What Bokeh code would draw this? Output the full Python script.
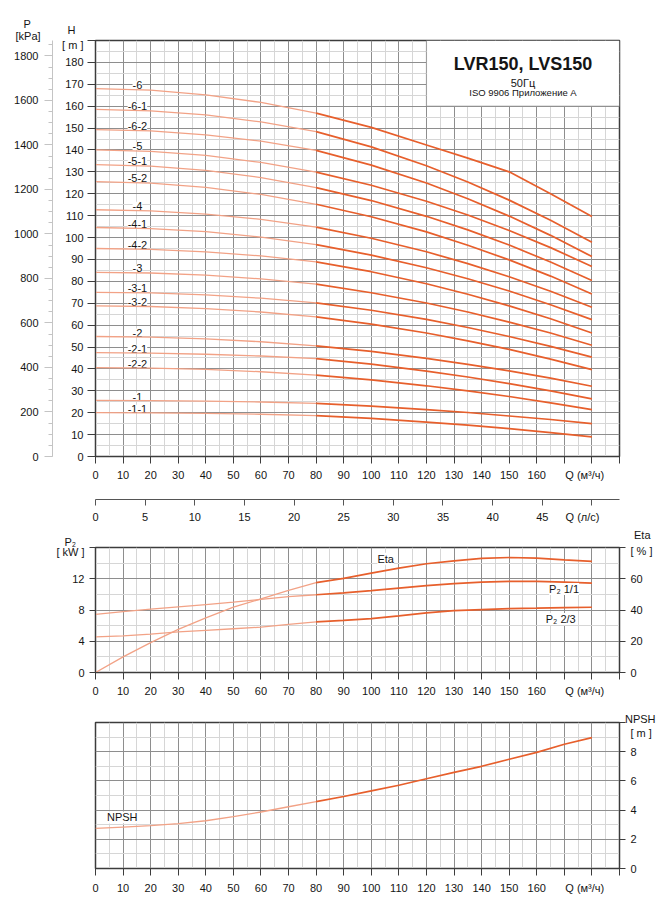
from bokeh.plotting import figure
from bokeh.models import (Range1d, LinearAxis, FixedTicker, Label, LabelSet, Title,
                          ColumnDataSource, BoxAnnotation)
from bokeh.layouts import column
from bokeh.core.properties import value
from bokeh.embed import file_html
from bokeh.resources import INLINE

FONT = "Liberation Sans"
INK = "#151515"
FRAME = "#3c3c3c"
GRID_MAJOR = "#8e8e8e"
GRID_MINOR = "#d6d6d6"
THIN = "#f2a286"
THICK = "#e75f2c"
KPA_PER_M = 9.84
Q_END = 190

# ---------------- H(Q) curves, Q in m3/h ----------------
q_head = [0, 20, 40, 60, 80, 100, 120, 135, 150, 165, 180]
h_6 = [168.0, 167.3, 165.2, 161.7, 156.8, 150.3, 142.3, 136.3, 130.0, 120.0, 109.6]
h_6_1 = [158.5, 157.9, 156.0, 152.8, 148.4, 141.4, 132.8, 125.4, 117.1, 107.9, 97.9]
h_6_2 = [149.3, 148.7, 146.9, 144.0, 139.8, 133.1, 124.9, 117.7, 109.8, 101.0, 91.3]
h_5 = [140.0, 139.4, 137.5, 134.3, 129.9, 123.9, 116.6, 110.3, 103.2, 95.4, 86.8]
h_5_1 = [133.3, 132.6, 130.7, 127.4, 122.8, 116.9, 109.7, 103.5, 96.6, 88.8, 80.4]
h_5_2 = [125.5, 124.9, 122.9, 119.7, 115.2, 109.5, 102.6, 96.5, 89.8, 82.4, 74.2]
h_4 = [112.7, 112.2, 110.7, 108.3, 104.8, 99.7, 93.5, 88.1, 82.1, 75.5, 68.2]
h_4_1 = [104.6, 104.1, 102.7, 100.2, 96.8, 92.0, 86.2, 81.2, 75.6, 69.3, 62.5]
h_4_2 = [95.0, 94.6, 93.5, 91.6, 88.9, 84.4, 78.9, 74.1, 68.8, 62.9, 56.4]
h_3 = [84.1, 83.8, 82.8, 81.1, 78.7, 74.8, 70.1, 66.0, 61.4, 56.4, 50.8]
h_3_1 = [75.0, 74.7, 73.8, 72.3, 70.2, 66.8, 62.6, 58.9, 54.8, 50.3, 45.4]
h_3_2 = [68.8, 68.5, 67.5, 66.0, 63.8, 60.5, 56.4, 52.8, 48.9, 44.5, 39.7]
h_2 = [54.8, 54.5, 53.7, 52.4, 50.5, 48.0, 44.8, 42.1, 39.1, 35.8, 32.1]
h_2_1 = [47.4, 47.2, 46.7, 45.9, 44.7, 42.2, 39.0, 36.3, 33.3, 30.0, 26.3]
h_2_2 = [40.6, 40.4, 39.8, 38.7, 37.2, 35.0, 32.3, 30.0, 27.4, 24.5, 21.4]
h_1 = [25.6, 25.5, 25.3, 24.9, 24.3, 23.0, 21.4, 20.1, 18.5, 16.9, 15.0]
h_1_1 = [20.0, 19.9, 19.7, 19.3, 18.7, 17.4, 15.7, 14.3, 12.7, 10.9, 9.0]

curve_names = ["-6", "-6-1", "-6-2", "-5", "-5-1", "-5-2", "-4", "-4-1", "-4-2",
               "-3", "-3-1", "-3-2", "-2", "-2-1", "-2-2", "-1", "-1-1"]
head_curves = [h_6, h_6_1, h_6_2, h_5, h_5_1, h_5_2, h_4, h_4_1, h_4_2,
               h_3, h_3_1, h_3_2, h_2, h_2_1, h_2_2, h_1, h_1_1]

# ---------------- power, efficiency, NPSH ----------------
q_curve = [0, 10, 20, 30, 40, 50, 60, 70, 80, 90, 100, 110, 120, 130, 140, 150, 160, 170, 180]
eta = [0, 10.0, 19.1, 27.6, 35.0, 41.8, 47.1, 52.6, 57.5, 60.2, 63.6, 66.8, 69.6, 71.5, 73.0, 73.6, 73.2, 72.1, 71.1]
p2_full = [7.45, 7.8, 8.1, 8.4, 8.7, 9.0, 9.35, 9.7, 9.95, 10.2, 10.47, 10.81, 11.11, 11.37, 11.58, 11.66, 11.66, 11.58, 11.45]
p2_two_thirds = [4.55, 4.68, 4.9, 5.2, 5.4, 5.6, 5.8, 6.15, 6.48, 6.66, 6.9, 7.25, 7.63, 7.93, 8.06, 8.18, 8.23, 8.3, 8.35]
npsh = [2.75, 2.84, 2.93, 3.07, 3.27, 3.55, 3.87, 4.23, 4.58, 4.93, 5.32, 5.70, 6.15, 6.58, 7.0, 7.48, 7.95, 8.51, 8.96]

# ---------------- axes ----------------
q_m3h_ticks = list(range(0, 161, 10))
q_m3h_marks = list(range(0, Q_END + 1, 10))
q_m3h_name = 177.4            # where the axis name sits among the tick labels
q_ls_ticks = list(range(0, 46, 5))
q_ls_marks = list(range(0, 51, 5))
q_ls_name = 49.05
h_ticks = list(range(0, 181, 10))
h_marks = list(range(0, Q_END + 1, 10))
h_unit = 188.1
kpa_ticks = list(range(0, 1801, 200))
kpa_minor = list(range(0, 1851, 50))
p2_ticks = [0, 4, 8, 12]
p2_marks = [0, 4, 8, 12, 16]
p2_unit = 15.4
eta_ticks = [0, 20, 40, 60]
eta_marks = [0, 20, 40, 60, 80]
eta_unit = 77.9
npsh_ticks = [0, 2, 4, 6, 8]
npsh_marks = [0, 2, 4, 6, 8, 10]
npsh_unit = 9.27

SPLIT = 80  # recommended operating range starts here


def base_figure(height, y_end, top, bottom, y_loc="left"):
    p = figure(width=664, height=height, x_range=Range1d(0, Q_END), y_range=Range1d(0, y_end),
               output_backend="svg", toolbar_location=None, y_axis_location=y_loc,
               min_border_left=95, min_border_right=45, min_border_top=top, min_border_bottom=bottom)
    p.outline_line_color = FRAME
    p.outline_line_width = 1.5
    p.background_fill_color = "white"
    p.border_fill_color = "white"
    return p


def style_grid(p, ymajor, yminor):
    p.xgrid.ticker = FixedTicker(ticks=list(range(0, Q_END + 1, 10)), minor_ticks=list(range(5, Q_END, 10)))
    p.ygrid.ticker = FixedTicker(ticks=ymajor, minor_ticks=yminor)
    for g in (p.xgrid[0], p.ygrid[0]):
        g.grid_line_color = GRID_MAJOR
        g.grid_line_width = 1
        g.minor_grid_line_color = GRID_MINOR
        g.minor_grid_line_width = 1


def style_axis(ax, ticks, marks, tick_out=7, name_at=None, name=None,
               line_color=FRAME, tick_color=FRAME, standoff=5):
    """Labelled ticks carry no marks; the marks are drawn as minor ticks so the
    axis name can sit in the tick-label row without a mark of its own."""
    label_ticks = list(ticks) + ([name_at] if name_at is not None else [])
    ax.ticker = FixedTicker(ticks=label_ticks, minor_ticks=marks)
    if name_at is not None:
        ax.major_label_overrides = {name_at: name}
    ax.major_label_text_font = FONT
    ax.major_label_text_font_size = "11px"
    ax.major_label_text_color = INK
    ax.major_tick_in = 0
    ax.major_tick_out = 0
    ax.minor_tick_in = 0
    ax.minor_tick_out = tick_out
    ax.axis_line_color = line_color
    ax.minor_tick_line_color = tick_color
    ax.major_label_standoff = standoff


def head_note(p, text, align, offset, standoff):
    p.add_layout(Title(text=text, align=align, offset=offset, standoff=standoff,
                       text_font=FONT, text_font_size="11px", text_font_style="normal",
                       text_color=INK), "above")


def note(p, x, y, text, size="11px", bold=False, bg=None, y_range_name="default"):
    lab = Label(x=x, y=y, text=text, text_font=FONT, text_font_size=size, text_align="center",
                text_baseline="middle", text_color=INK, y_range_name=y_range_name)
    if bold:
        lab.text_font_style = "bold"
    if bg:
        lab.background_fill_color = bg
    p.add_layout(lab)


def two_tone(p, q, vals, y_range_name="default"):
    i = q.index(SPLIT)
    p.line(q[:i + 1], vals[:i + 1], line_color=THIN, line_width=1.3, y_range_name=y_range_name)
    p.line(q[i:], vals[i:], line_color=THICK, line_width=1.7, y_range_name=y_range_name)


# ======================= head chart =======================
p1 = base_figure(525, Q_END, top=40, bottom=68)
style_grid(p1, list(range(0, Q_END + 1, 10)), list(range(5, Q_END, 10)))
p1.extra_y_ranges = {"kpa": Range1d(0, Q_END * KPA_PER_M)}
p1.extra_x_ranges = {"ls": Range1d(0, Q_END / 3.6)}

hax = p1.yaxis[0]
style_axis(hax, h_ticks, h_marks, tick_out=8, name_at=h_unit, name="[ m ]", standoff=4)
hax.axis_label = " "
hax.axis_label_text_font_size = "2px"
hax.axis_label_standoff = 1

kax = LinearAxis(y_range_name="kpa")
kax.ticker = FixedTicker(ticks=kpa_ticks, minor_ticks=kpa_minor)
kax.major_label_text_font = FONT
kax.major_label_text_font_size = "11px"
kax.major_label_text_color = INK
kax.major_tick_in = 0
kax.major_tick_out = 8
kax.minor_tick_in = 0
kax.minor_tick_out = 4
kax.major_label_standoff = 6
kax.axis_line_color = "#c4c4c4"
kax.major_tick_line_color = "#c4c4c4"
kax.minor_tick_line_color = "#c4c4c4"
p1.add_layout(kax, "left")

qax = p1.xaxis[0]
style_axis(qax, q_m3h_ticks, q_m3h_marks, name_at=q_m3h_name, name="Q (м³/ч)")
qax.axis_label = " "
qax.axis_label_text_font_size = "11px"
qax.axis_label_standoff = 1

lax = LinearAxis(x_range_name="ls")
style_axis(lax, q_ls_ticks, q_ls_marks, tick_out=6, name_at=q_ls_name, name="Q (л/с)",
           line_color="#555555", tick_color="#555555")
p1.add_layout(lax, "below")

lbl_src = ColumnDataSource(dict(x=[15.2] * len(curve_names),
                                y=[h[0] + 1.8 for h in head_curves],
                                text=curve_names))
p1.add_layout(LabelSet(x="x", y="y", text="text", source=lbl_src, level="underlay",
                       text_font=value(FONT), text_font_size=value("11px"), text_color=INK,
                       text_align="center", text_baseline="middle",
                       background_fill_color="white"))

for h in head_curves:
    two_tone(p1, q_head, h)

p1.add_layout(BoxAnnotation(left=120, right=Q_END, bottom=160, top=Q_END, fill_color="white",
                            fill_alpha=1, line_color=FRAME, line_width=1.2))
note(p1, 155, 179.4, "LVR150, LVS150", size="18px", bold=True)
note(p1, 155, 170.8, "50Гц", size="11px")
note(p1, 155, 166.2, "ISO 9906 Приложение А", size="9.5px")

# unit captions above the frame, nearest row first
head_note(p1, "[kPa]", "left", -80, -2)
head_note(p1, "H", "left", -28, -14)
head_note(p1, "P", "left", -72, -3)

# ======================= power / efficiency chart =======================
p2 = base_figure(180, 16, top=22, bottom=33)
style_grid(p2, [0, 4, 8, 12, 16], [2, 6, 10, 14])
p2.extra_y_ranges = {"eta": Range1d(0, 80)}
style_axis(p2.yaxis[0], p2_ticks, p2_marks, tick_out=6, name_at=p2_unit, name="[ kW ]")
style_axis(p2.xaxis[0], q_m3h_ticks, q_m3h_marks, name_at=q_m3h_name, name="Q (м³/ч)")
eax = LinearAxis(y_range_name="eta")
style_axis(eax, eta_ticks, eta_marks, tick_out=6, name_at=eta_unit, name="[ % ]")
p2.add_layout(eax, "right")

note(p2, 105.2, 14.56, "Eta", bg="white")
note(p2, 169.9, 10.7, "P₂ 1/1", bg="white")
note(p2, 168.7, 6.85, "P₂ 2/3", bg="white")
two_tone(p2, q_curve, p2_full)
two_tone(p2, q_curve, p2_two_thirds)
two_tone(p2, q_curve, eta, y_range_name="eta")

head_note(p2, "P₂", "left", -31, 0)
head_note(p2, "Eta", "right", -31, -14)

# ======================= NPSH chart =======================
p3 = base_figure(200, 10, top=17, bottom=37, y_loc="right")
style_grid(p3, [0, 2, 4, 6, 8, 10], [1, 3, 5, 7, 9])
style_axis(p3.yaxis[0], npsh_ticks, npsh_marks, tick_out=6, name_at=npsh_unit, name="[ m ]")
style_axis(p3.xaxis[0], q_m3h_ticks, q_m3h_marks, name_at=q_m3h_name, name="Q (м³/ч)", standoff=6)

note(p3, 9.7, 3.5, "NPSH", bg="white")
two_tone(p3, q_curve, npsh)
head_note(p3, "NPSH", "right", -36, -4)

page = column(p1, p2, p3, spacing=0)
open("out.html", "w").write(file_html(page, INLINE))
